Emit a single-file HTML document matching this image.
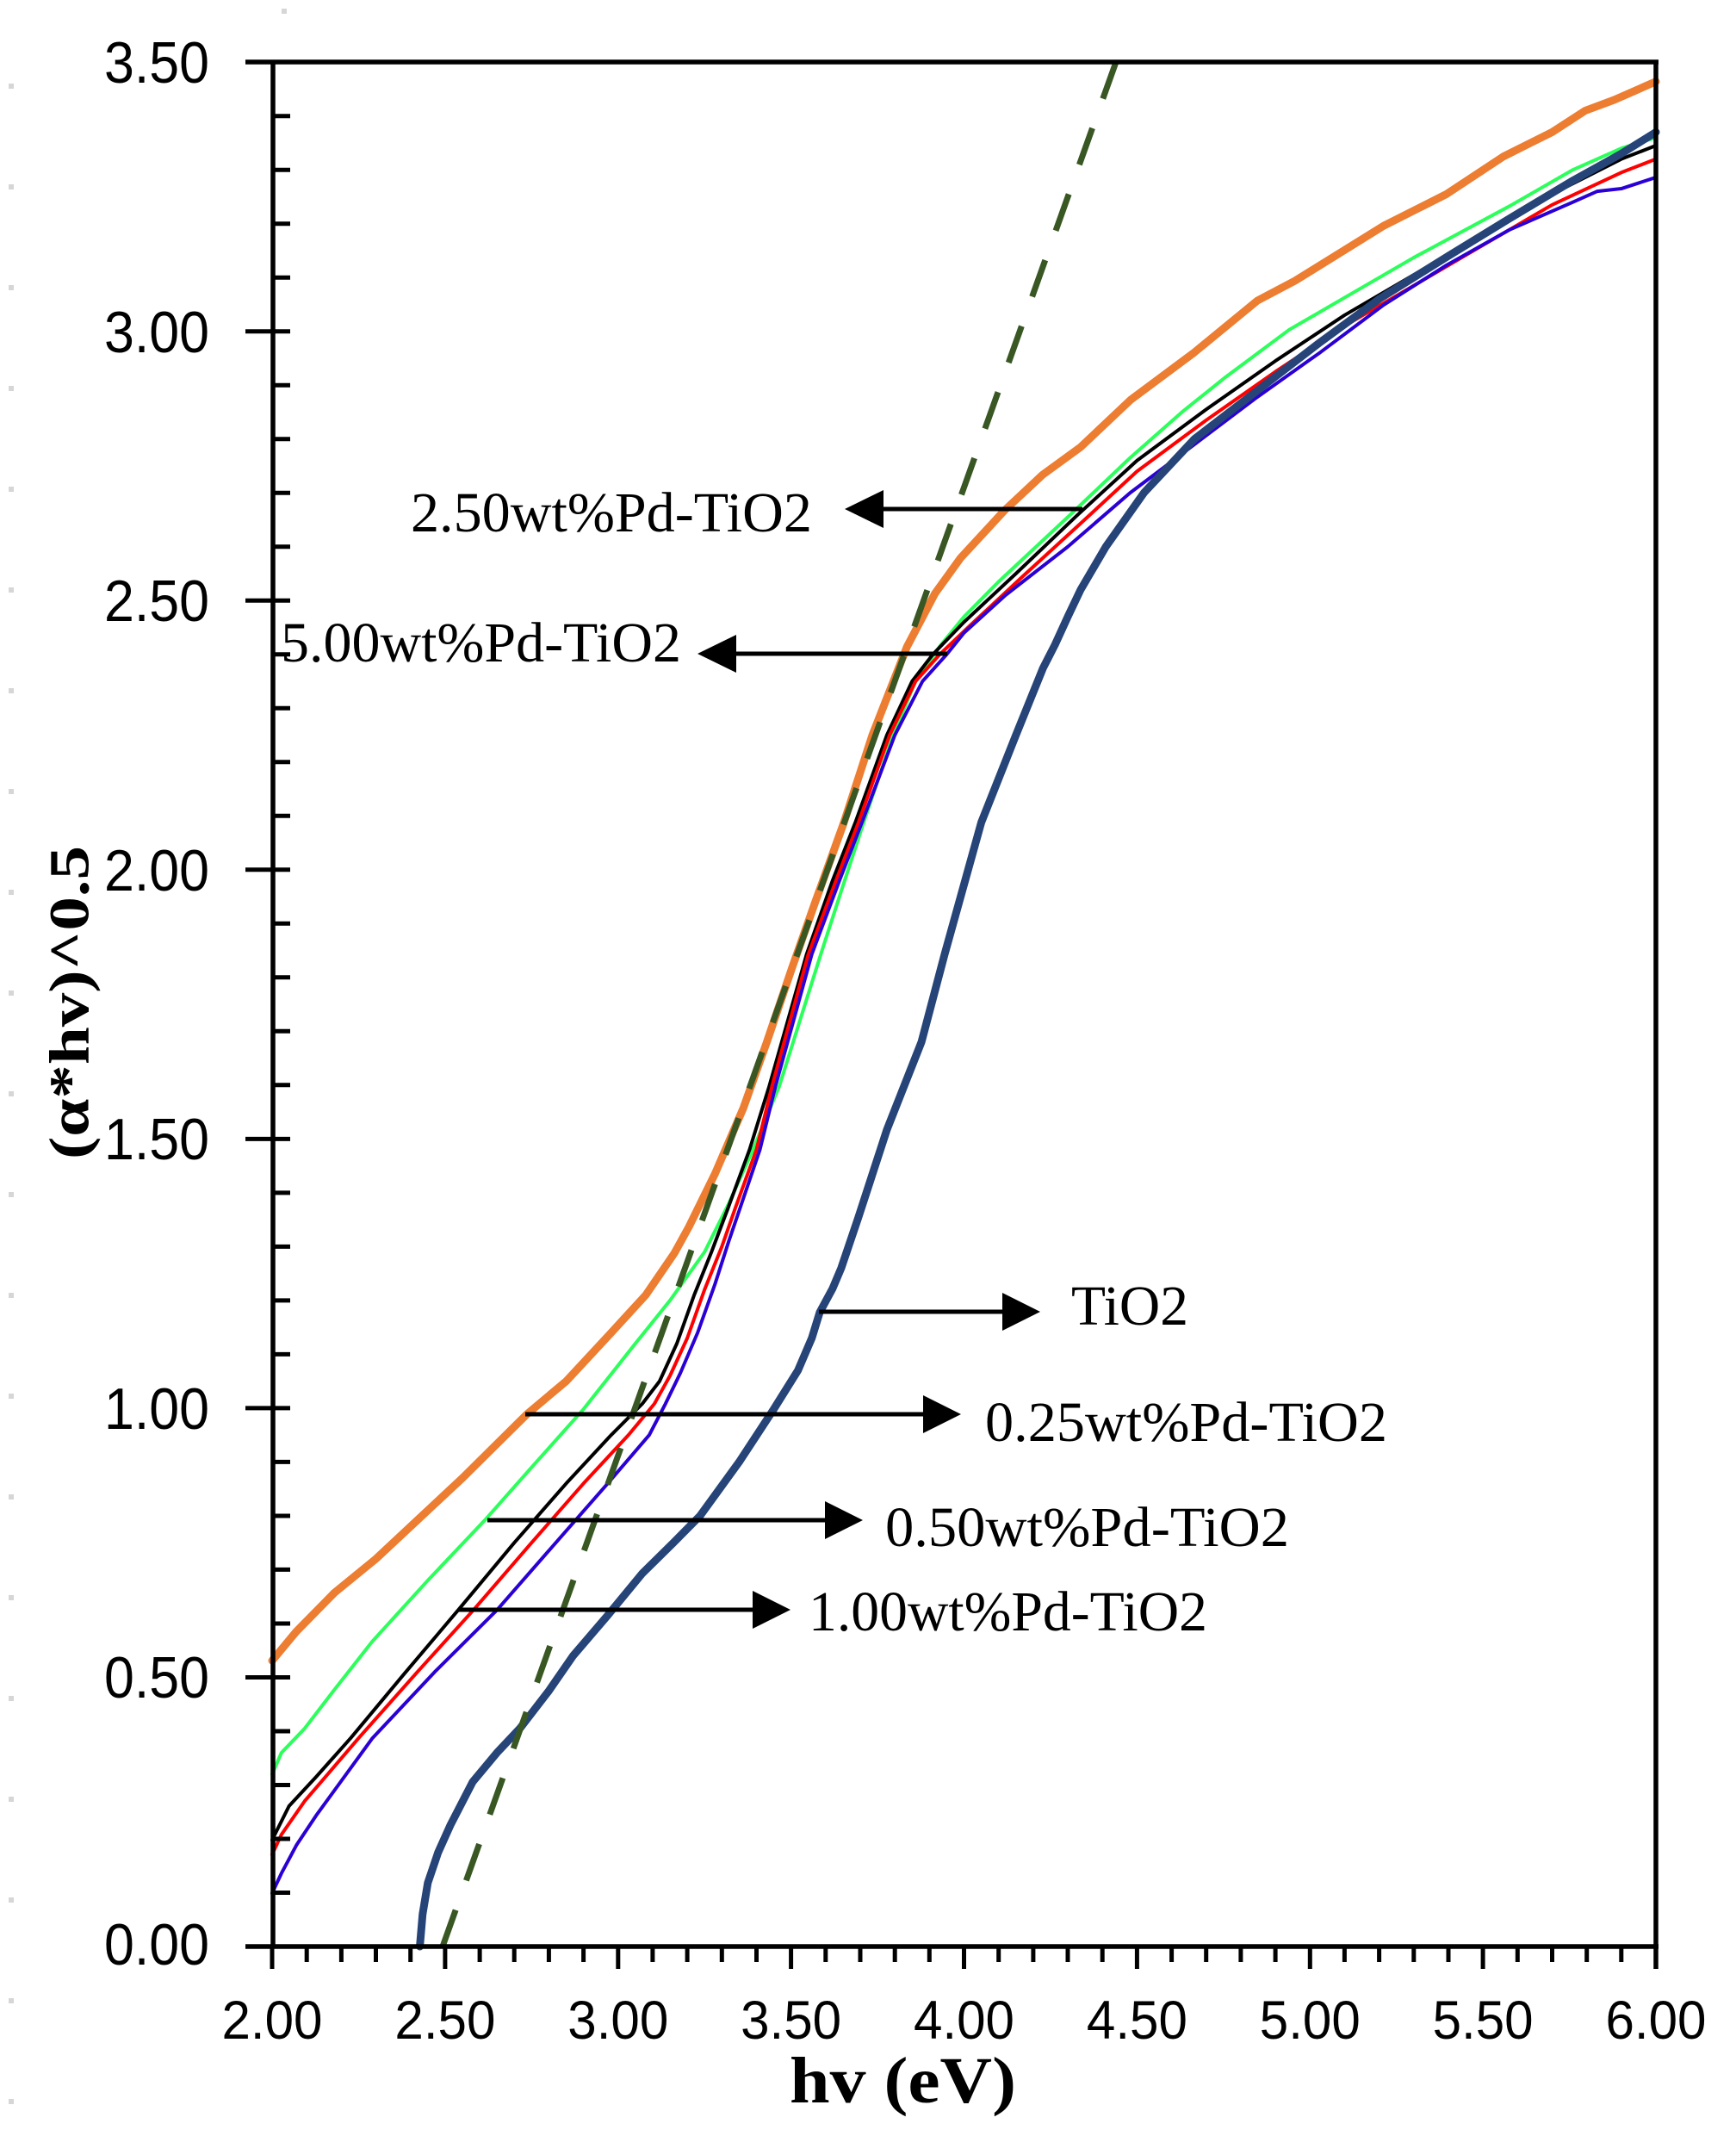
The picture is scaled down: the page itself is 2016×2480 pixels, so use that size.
<!DOCTYPE html>
<html><head><meta charset="utf-8"><style>
html,body{margin:0;padding:0;background:#fff;}
svg{display:block;}
</style></head><body>
<svg width="2016" height="2480" viewBox="0 0 2016 2480" xmlns="http://www.w3.org/2000/svg">
<defs><clipPath id="pa"><rect x="317" y="72" width="1606" height="2188"/></clipPath></defs>
<rect width="2016" height="2480" fill="#fff"/>
<!-- faint dots -->
<g fill="#d6d6d6">
<rect x="10" y="97" width="6" height="6"/><rect x="10" y="214" width="6" height="6"/><rect x="10" y="331" width="6" height="6"/><rect x="10" y="448" width="6" height="6"/><rect x="10" y="565" width="6" height="6"/><rect x="10" y="682" width="6" height="6"/><rect x="10" y="799" width="6" height="6"/><rect x="10" y="916" width="6" height="6"/><rect x="10" y="1033" width="6" height="6"/><rect x="10" y="1150" width="6" height="6"/><rect x="10" y="1267" width="6" height="6"/><rect x="10" y="1384" width="6" height="6"/><rect x="10" y="1501" width="6" height="6"/><rect x="10" y="1618" width="6" height="6"/><rect x="10" y="1735" width="6" height="6"/><rect x="10" y="1852" width="6" height="6"/><rect x="10" y="1969" width="6" height="6"/><rect x="10" y="2086" width="6" height="6"/><rect x="10" y="2203" width="6" height="6"/><rect x="10" y="2320" width="6" height="6"/><rect x="10" y="2437" width="6" height="6"/>
<rect x="327" y="10" width="6" height="6"/>
</g>

<!-- curves in data coordinates -->
<g transform="matrix(401.75 0 0 -625.1 -487.5 2260)" fill="none" stroke-linejoin="round" stroke-linecap="round">
<polyline vector-effect="non-scaling-stroke" stroke="#2BFF5A" stroke-width="4" points="2.00,0.32 2.027,0.36 2.094,0.405 2.18,0.477 2.29,0.567 2.45,0.68 2.615,0.792 2.75,0.89 2.90,0.998 3.05,1.12 3.15,1.20 3.25,1.29 3.32,1.38 3.39,1.48 3.466,1.598 3.586,1.843 3.65,1.97 3.71,2.088 3.795,2.25 3.86,2.35 3.93,2.415 4.0,2.47 4.10,2.535 4.20,2.595 4.30,2.655 4.48,2.765 4.63,2.85 4.756,2.915 4.94,3.003 5.12,3.07 5.30,3.137 5.578,3.233 5.76,3.30 5.9,3.34 6.0,3.36"/>
<polyline vector-effect="non-scaling-stroke" stroke="#000000" stroke-width="4" points="2.00,0.198 2.049,0.261 2.127,0.315 2.227,0.387 2.38,0.505 2.538,0.625 2.70,0.75 2.85,0.86 2.98,0.95 3.07,1.008 3.12,1.05 3.17,1.12 3.22,1.21 3.27,1.29 3.317,1.37 3.38,1.48 3.437,1.598 3.545,1.843 3.62,1.98 3.686,2.088 3.777,2.25 3.85,2.35 3.91,2.40 4.0,2.46 4.15,2.55 4.33,2.66 4.5,2.76 4.7,2.855 4.9,2.945 5.1,3.03 5.3,3.105 5.5,3.18 5.7,3.255 5.9,3.32 6.0,3.345"/>
<polyline vector-effect="non-scaling-stroke" stroke="#FF0000" stroke-width="4" points="2.00,0.171 2.027,0.208 2.094,0.27 2.25,0.387 2.42,0.51 2.582,0.625 2.75,0.75 2.90,0.86 3.03,0.95 3.105,1.008 3.15,1.06 3.20,1.13 3.25,1.22 3.30,1.30 3.338,1.37 3.40,1.48 3.445,1.598 3.55,1.843 3.63,1.98 3.695,2.088 3.785,2.25 3.86,2.35 3.93,2.40 4.02,2.455 4.17,2.545 4.34,2.645 4.5,2.74 4.7,2.835 4.9,2.925 5.1,3.01 5.3,3.085 5.5,3.16 5.7,3.235 5.9,3.295 6.0,3.32"/>
<polyline vector-effect="non-scaling-stroke" stroke="#2A00D5" stroke-width="4" points="2.00,0.099 2.027,0.136 2.071,0.189 2.127,0.243 2.29,0.387 2.47,0.51 2.65,0.625 2.82,0.75 2.97,0.86 3.09,0.95 3.137,1.008 3.18,1.065 3.23,1.14 3.28,1.23 3.32,1.31 3.355,1.376 3.41,1.48 3.455,1.598 3.56,1.843 3.64,1.98 3.705,2.088 3.80,2.25 3.88,2.35 3.95,2.40 4.0,2.44 4.12,2.51 4.30,2.60 4.48,2.70 4.666,2.79 4.848,2.878 5.03,2.961 5.213,3.049 5.395,3.123 5.578,3.189 5.76,3.24 5.83,3.26 5.9,3.265 6.0,3.286"/>
<polyline vector-effect="non-scaling-stroke" stroke="#264478" stroke-width="9" points="2.427,0.0 2.435,0.06 2.45,0.118 2.48,0.175 2.515,0.225 2.58,0.306 2.65,0.36 2.716,0.405 2.80,0.475 2.87,0.54 2.97,0.615 3.07,0.693 3.16,0.75 3.237,0.80 3.35,0.90 3.45,0.998 3.52,1.07 3.56,1.13 3.583,1.178 3.62,1.222 3.645,1.26 3.694,1.353 3.777,1.517 3.877,1.68 3.944,1.843 4.05,2.088 4.15,2.25 4.228,2.374 4.263,2.418 4.30,2.47 4.337,2.52 4.41,2.60 4.52,2.70 4.666,2.80 4.848,2.89 5.03,2.98 5.2,3.06 5.4,3.14 5.578,3.21 5.76,3.28 5.9,3.33 6.0,3.37"/>
<polyline vector-effect="non-scaling-stroke" stroke="#ED7D31" stroke-width="9" points="2.00,0.531 2.07,0.585 2.18,0.657 2.30,0.72 2.405,0.783 2.55,0.87 2.737,0.989 2.85,1.05 2.98,1.14 3.08,1.21 3.163,1.288 3.205,1.337 3.28,1.435 3.362,1.557 3.43,1.68 3.503,1.818 3.57,1.94 3.653,2.088 3.735,2.25 3.835,2.414 3.916,2.513 3.99,2.579 4.118,2.668 4.228,2.734 4.337,2.785 4.482,2.873 4.666,2.961 4.848,3.057 4.957,3.094 5.213,3.196 5.395,3.255 5.56,3.325 5.70,3.37 5.796,3.41 5.88,3.43 6.0,3.464"/>
</g>
<!-- dashed tangent -->
<line x1="514" y1="2260" x2="1296" y2="72" stroke="#385723" stroke-width="7" stroke-dasharray="45 36.37"/>

<!-- axes -->
<g stroke="#000" stroke-width="5.5" fill="none">
<line x1="317" y1="72" x2="317" y2="2260"/>
<line x1="285" y1="2260" x2="1926" y2="2260"/>
<line x1="285" y1="72" x2="1926" y2="72"/>
<line x1="1923" y1="72" x2="1923" y2="2286"/>
</g>
<!-- y ticks -->
<path stroke="#000" stroke-width="5" fill="none" d="M317 2197.5h20M317 2135h20M317 2072.5h20M317 2010h20M285 1947.5h52M317 1885h20M317 1822.4h20M317 1760h20M317 1697.4h20M285 1634.9h52M317 1572.4h20M317 1509.9h20M317 1447.4h20M317 1384.9h20M285 1322.4h52M317 1259.8h20M317 1197.3h20M317 1134.8h20M317 1072.3h20M285 1009.8h52M317 947.3h20M317 884.8h20M317 822.3h20M317 759.8h20M285 697.3h52M317 634.7h20M317 572.2h20M317 509.7h20M317 447.2h20M285 384.7h52M317 322.2h20M317 259.7h20M317 197.2h20M317 134.7h20"/>
<!-- x ticks -->
<path stroke="#000" stroke-width="5" fill="none" d="M316 2260v26M356.2 2260v18M396.4 2260v18M436.5 2260v18M476.7 2260v18M516.9 2260v26M557.1 2260v18M597.2 2260v18M637.4 2260v18M677.6 2260v18M717.8 2260v26M757.9 2260v18M798.1 2260v18M838.3 2260v18M878.5 2260v18M918.6 2260v26M958.8 2260v18M999 2260v18M1039.2 2260v18M1079.3 2260v18M1119.5 2260v26M1159.7 2260v18M1199.9 2260v18M1240 2260v18M1280.2 2260v18M1320.4 2260v26M1360.6 2260v18M1400.7 2260v18M1440.9 2260v18M1481.1 2260v18M1521.3 2260v26M1561.4 2260v18M1601.6 2260v18M1641.8 2260v18M1682 2260v18M1722.1 2260v26M1762.3 2260v18M1802.5 2260v18M1842.7 2260v18M1882.8 2260v18"/>

<!-- y tick labels -->
<g font-family="'Liberation Sans', sans-serif" font-size="68" fill="#000">
<text x="121" y="96" textLength="122" lengthAdjust="spacingAndGlyphs">3.50</text>
<text x="121" y="409" textLength="122" lengthAdjust="spacingAndGlyphs">3.00</text>
<text x="121" y="721" textLength="122" lengthAdjust="spacingAndGlyphs">2.50</text>
<text x="121" y="1034" textLength="122" lengthAdjust="spacingAndGlyphs">2.00</text>
<text x="121" y="1346" textLength="122" lengthAdjust="spacingAndGlyphs">1.50</text>
<text x="121" y="1659" textLength="122" lengthAdjust="spacingAndGlyphs">1.00</text>
<text x="121" y="1971" textLength="122" lengthAdjust="spacingAndGlyphs">0.50</text>
<text x="121" y="2281" textLength="122" lengthAdjust="spacingAndGlyphs">0.00</text>
</g>
<!-- x tick labels -->
<g font-family="'Liberation Sans', sans-serif" font-size="63" fill="#000">
<text x="257.5" y="2367" textLength="117" lengthAdjust="spacingAndGlyphs">2.00</text>
<text x="458.4" y="2367" textLength="117" lengthAdjust="spacingAndGlyphs">2.50</text>
<text x="659.3" y="2367" textLength="117" lengthAdjust="spacingAndGlyphs">3.00</text>
<text x="860.1" y="2367" textLength="117" lengthAdjust="spacingAndGlyphs">3.50</text>
<text x="1061" y="2367" textLength="117" lengthAdjust="spacingAndGlyphs">4.00</text>
<text x="1261.9" y="2367" textLength="117" lengthAdjust="spacingAndGlyphs">4.50</text>
<text x="1462.8" y="2367" textLength="117" lengthAdjust="spacingAndGlyphs">5.00</text>
<text x="1663.6" y="2367" textLength="117" lengthAdjust="spacingAndGlyphs">5.50</text>
<text x="1864.5" y="2367" textLength="117" lengthAdjust="spacingAndGlyphs">6.00</text>
</g>

<!-- axis titles -->
<text x="917" y="2441" font-family="'Liberation Serif', serif" font-weight="bold" font-size="76" textLength="263" lengthAdjust="spacingAndGlyphs">hv (eV)</text>
<text transform="translate(102.5 1164) rotate(-90)" x="0" y="0" text-anchor="middle" font-family="'Liberation Serif', serif" font-weight="bold" font-size="66" textLength="364" lengthAdjust="spacingAndGlyphs">(α*hv)^0.5</text>

<!-- arrows -->
<g stroke="#000" stroke-width="5">
<line x1="1257" y1="591" x2="1020" y2="591"/>
<line x1="1100" y1="759" x2="850" y2="759"/>
<line x1="951" y1="1523" x2="1170" y2="1523"/>
<line x1="610" y1="1642" x2="1078" y2="1642"/>
<line x1="566" y1="1765" x2="964" y2="1765"/>
<line x1="533" y1="1869" x2="880" y2="1869"/>
</g>
<g fill="#000">
<polygon points="981,591 1026,569 1026,613"/>
<polygon points="810,759 855,737 855,781"/>
<polygon points="1208,1523 1164,1501 1164,1545"/>
<polygon points="1116,1642 1072,1620 1072,1664"/>
<polygon points="1002,1765 958,1743 958,1787"/>
<polygon points="918,1869 874,1847 874,1891"/>
</g>

<!-- annotation labels -->
<g font-family="'Liberation Serif', serif" font-size="66" fill="#000">
<text x="477" y="617" textLength="466" lengthAdjust="spacingAndGlyphs">2.50wt%Pd-TiO2</text>
<text x="326" y="768" textLength="465" lengthAdjust="spacingAndGlyphs">5.00wt%Pd-TiO2</text>
<text x="1244" y="1538" textLength="136" lengthAdjust="spacingAndGlyphs">TiO2</text>
<text x="1144" y="1673" textLength="467" lengthAdjust="spacingAndGlyphs">0.25wt%Pd-TiO2</text>
<text x="1028" y="1795" textLength="469" lengthAdjust="spacingAndGlyphs">0.50wt%Pd-TiO2</text>
<text x="939" y="1893" textLength="463" lengthAdjust="spacingAndGlyphs">1.00wt%Pd-TiO2</text>
</g>
</svg>
</body></html>
